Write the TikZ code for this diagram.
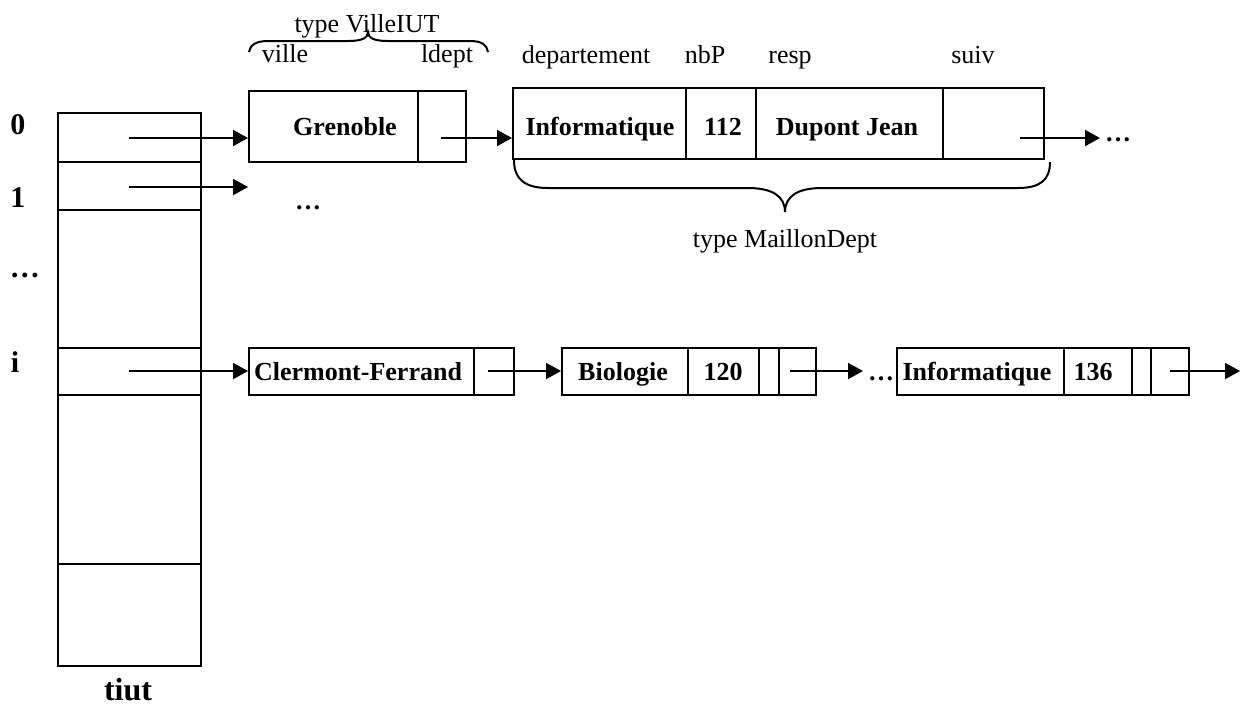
\documentclass[tikz,border=0pt]{standalone}
\usepackage{fontspec}
\setmainfont{Liberation Serif}
\usetikzlibrary{arrows.meta}
\begin{document}
\begin{tikzpicture}[x=0.5pt,y=-0.5pt, line width=1pt,
  cell/.style 2 args={draw, rectangle, inner sep=0pt, anchor=north west, minimum width=#1, minimum height=#2},
  bt/.style={font=\fontsize{13}{15}\selectfont\bfseries, inner sep=0pt, anchor=base},
  lt/.style={font=\fontsize{13}{15}\selectfont, inner sep=0pt, anchor=base},
  rl/.style={font=\fontsize{15}{17}\selectfont\bfseries, inner sep=0pt, anchor=base},
  big/.style={font=\fontsize{16}{18}\selectfont\bfseries, inner sep=0pt, anchor=base},
  arr/.style={-{Triangle[length=7.5pt,width=8pt]}},
  brace/.style={line width=1pt}]
\useasboundingbox (0,0) rectangle (1241,709);
% table tiut
\node[cell={71.5pt}{24.5pt}] (r0) at (57,112) {};
\node[cell={71.5pt}{24pt}] (r1) at (57,161) {};
\node[cell={71.5pt}{69pt}] (r2) at (57,209) {};
\node[cell={71.5pt}{23.5pt}] (r3) at (57,347) {};
\node[cell={71.5pt}{84.5pt}] (r4) at (57,394) {};
\node[cell={71.5pt}{51pt}] (r5) at (57,563) {};
\node[big] (tiut) at (128,700) {tiut};
\node[rl] (l0) at (18,134) {0};
\node[rl] (l1) at (18,207) {1};
\node[rl] (ld) at (25,277) {…};
\node[rl] (li) at (15,372) {i};
% VilleIUT Grenoble
\node[cell={84.5pt}{35.5pt}] (g1) at (248,90) {};
\node[cell={24pt}{35.5pt}] (g2) at (417,90) {};
\node[bt] (tg) at (345,135) {Grenoble};
% MaillonDept
\node[cell={86.5pt}{35.5pt}] (m1) at (512,87) {};
\node[cell={35pt}{35.5pt}] (m2) at (685,87) {};
\node[cell={93.5pt}{35.5pt}] (m3) at (755,87) {};
\node[cell={50.5pt}{35.5pt}] (m4) at (942,87) {};
\node[bt] (tm1) at (600,135) {Informatique};
\node[bt] (tm2) at (723,135) {112};
\node[bt] (tm3) at (847,135) {Dupont Jean};
\node[bt, anchor=base west] (dm) at (1104,141) {…};
% headers
\node[lt] (hv) at (367,32) {type VilleIUT};
\node[lt] (hville) at (285,62) {ville};
\node[lt] (hldept) at (447,62) {ldept};
\node[lt] (hdep) at (586,63) {departement};
\node[lt] (hnbp) at (705,63) {nbP};
\node[lt] (hresp) at (790,63) {resp};
\node[lt] (hsuiv) at (973,63) {suiv};
\node[lt] (hmd) at (785,247) {type MaillonDept};
% braces
\draw[brace] (249,52) .. controls (250,45) and (256,41) .. (268,41) -- (348,41)
  .. controls (362,41) and (368,38) .. (368,32)
  .. controls (368,38) and (374,41) .. (388,41) -- (470,41)
  .. controls (482,41) and (487,45) .. (488,52);
\draw[brace] (514,160) .. controls (514,180) and (526,188) .. (548,188) -- (748,188)
  .. controls (772,188) and (785,196) .. (785,212)
  .. controls (785,196) and (798,188) .. (822,188) -- (1018,188)
  .. controls (1040,188) and (1050,180) .. (1050,162);
% row 1 dots
\node[bt] (d1) at (308,209) {…};
% Clermont-Ferrand row
\node[cell={112.5pt}{23.5pt}] (c1) at (248,347) {};
\node[cell={20pt}{23.5pt}] (c2) at (473,347) {};
\node[bt] (tc) at (358,380) {Clermont-Ferrand};
\node[cell={63pt}{23.5pt}] (b1) at (561,347) {};
\node[cell={35.5pt}{23.5pt}] (b2) at (687,347) {};
\node[cell={10pt}{23.5pt}] (b3) at (758,347) {};
\node[cell={18.5pt}{23.5pt}] (b4) at (778,347) {};
\node[bt] (tb1) at (623,380) {Biologie};
\node[bt] (tb2) at (723,380) {120};
\node[bt, anchor=base west] (db) at (867,380) {…};
\node[cell={83.5pt}{23.5pt}] (k1) at (896,347) {};
\node[cell={34pt}{23.5pt}] (k2) at (1063,347) {};
\node[cell={9.5pt}{23.5pt}] (k3) at (1131,347) {};
\node[cell={19pt}{23.5pt}] (k4) at (1150,347) {};
\node[bt] (tk1) at (977,380) {Informatique};
\node[bt] (tk2) at (1093,380) {136};
% pointer origins
\coordinate (p0) at (129,138);
\coordinate (p1) at (129,187);
\coordinate (pi) at (129,371);
\coordinate (pg) at (441,138);
\coordinate (pm) at (1020,138);
\coordinate (pc) at (488,371);
\coordinate (pb) at (790,371);
\coordinate (pk) at (1170,371);
\coordinate (e1) at (248,187);
\coordinate (ek) at (1240,371);
% arrows
\draw[arr] (p0) -- (p0 -| g1.west);
\draw[arr] (p1) -- (e1);
\draw[arr] (pi) -- (pi -| c1.west);
\draw[arr] (pg) -- (pg -| m1.west);
\draw[arr] (pm) -- ([xshift=-2pt]pm -| dm.west);
\draw[arr] (pc) -- (pc -| b1.west);
\draw[arr] (pb) -- ([xshift=-2pt]pb -| db.west);
\draw[arr] (pk) -- (ek);
\end{tikzpicture}
\end{document}
